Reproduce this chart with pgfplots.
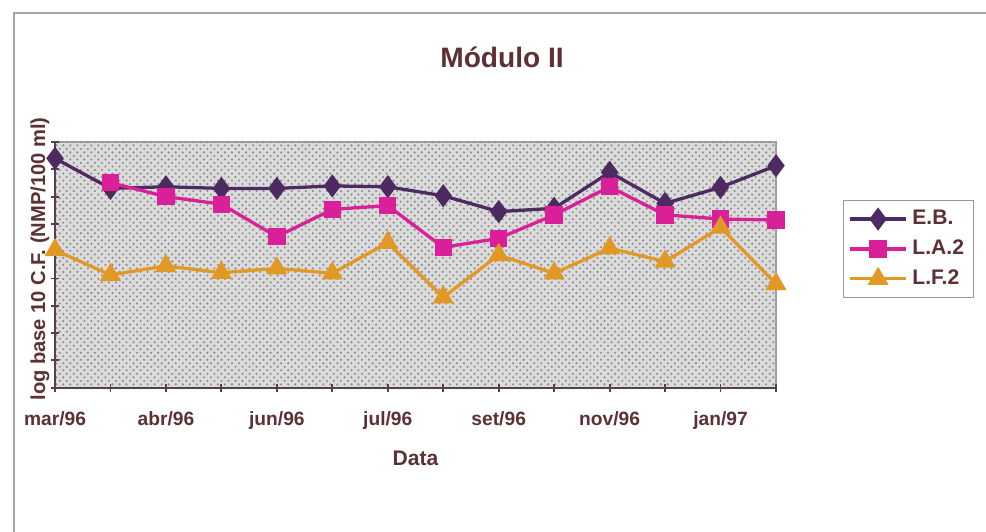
\documentclass[border=0pt]{standalone}
\usepackage{pgfplots}
\pgfplotsset{compat=1.18}
\usepackage{pgfplotstable}
\usepackage{fontspec}
\setmainfont{Liberation Sans}
\usetikzlibrary{patterns}

\definecolor{txt}{RGB}{92,48,52}
\definecolor{axl}{RGB}{85,65,75}
\definecolor{eb}{RGB}{78,42,98}
\definecolor{la}{RGB}{218,32,152}
\definecolor{lf}{RGB}{226,152,36}

% log10 C.F. per month
\pgfplotstableread{
x  eb    la    lf
0  8.40  nan   5.04
1  7.30  7.51  4.13
2  7.36  7.00  4.46
3  7.30  6.72  4.21
4  7.30  5.53  4.37
5  7.39  6.53  4.19
6  7.36  6.67  5.31
7  7.03  5.14  3.31
8  6.45  5.47  4.86
9  6.57  6.33  4.19
10 7.89  7.36  5.11
11 6.75  6.33  4.62
12 7.34  6.18  5.87
13 8.13  6.14  3.80
}\modII

\begin{document}
\begin{tikzpicture}
\useasboundingbox (-0.825,-2.1645) rectangle (13.965,5.8155);
% chart area frame (only left and top edges are in the scan)
\draw[gray!70, line width=0.6pt] (-0.615,-2.2) -- (-0.615,5.62) -- (14.0,5.62);
\begin{axis}[
    scale only axis,
    width=10.815cm, height=3.686cm,
    xmin=0, xmax=13,
    ymin=0, ymax=9,
    axis x line=bottom, axis y line=left,
    axis line style={-, axl, line width=1pt},
    axis background/.style={fill=black!14, draw=gray!75, line width=0.5pt,
        postaction={pattern=crosshatch dots, pattern color=black!45}},
    xtick={0,...,13},
    xticklabels={mar/96,,abr/96,,jun/96,,jul/96,,set/96,,nov/96,,jan/97,},
    ytick={0,...,9},
    yticklabels={},
    tick align=center,
    major tick length=0.12cm,
    tick style={axl, line width=0.8pt},
    ticklabel style={font=\bfseries\fontsize{8.2}{10}\selectfont, text=txt},
    xticklabel style={yshift=-5pt},
    xlabel={Data},
    xlabel style={at={(axis description cs:0.5,-0.286)}, anchor=center,
        font=\bfseries\fontsize{9}{11}\selectfont, text=txt},
    ylabel={log base 10 C.F. (NMP/100 ml)},
    ylabel style={at={(axis description cs:-0.021,0.524)}, anchor=center,
        font=\bfseries\fontsize{8.6}{10}\selectfont, text=txt},
    clip=false,
    legend style={at={(1.093,0.764)}, anchor=north west,
        draw=gray!80, line width=0.6pt, fill=white,
        font=\bfseries\fontsize{9}{10}\selectfont, text=txt,
        row sep=1pt, inner sep=2pt},
    legend cell align=left,
    legend image code/.code={
        \draw[mark repeat=2, mark phase=2] plot coordinates {(0cm,0cm) (0.42cm,0cm) (0.84cm,0cm)};
    },
]
\addplot[eb, line width=1.4pt, mark=diamond*, mark size=3.8pt, mark options={fill=eb}]
    table[x=x, y=eb] {\modII};
\addplot[la, line width=1.4pt, mark=square*, mark size=3pt, mark options={fill=la}]
    table[x=x, y=la] {\modII};
\addplot[lf, line width=1.4pt, mark=triangle*, mark size=3.8pt, mark options={fill=lf}]
    table[x=x, y=lf] {\modII};
\legend{E.B., L.A.2, L.F.2}
\node[font=\bfseries\fontsize{12}{14}\selectfont, text=txt] at (rel axis cs:0.62,1.346) {Módulo II};
\end{axis}
\end{tikzpicture}
\end{document}
